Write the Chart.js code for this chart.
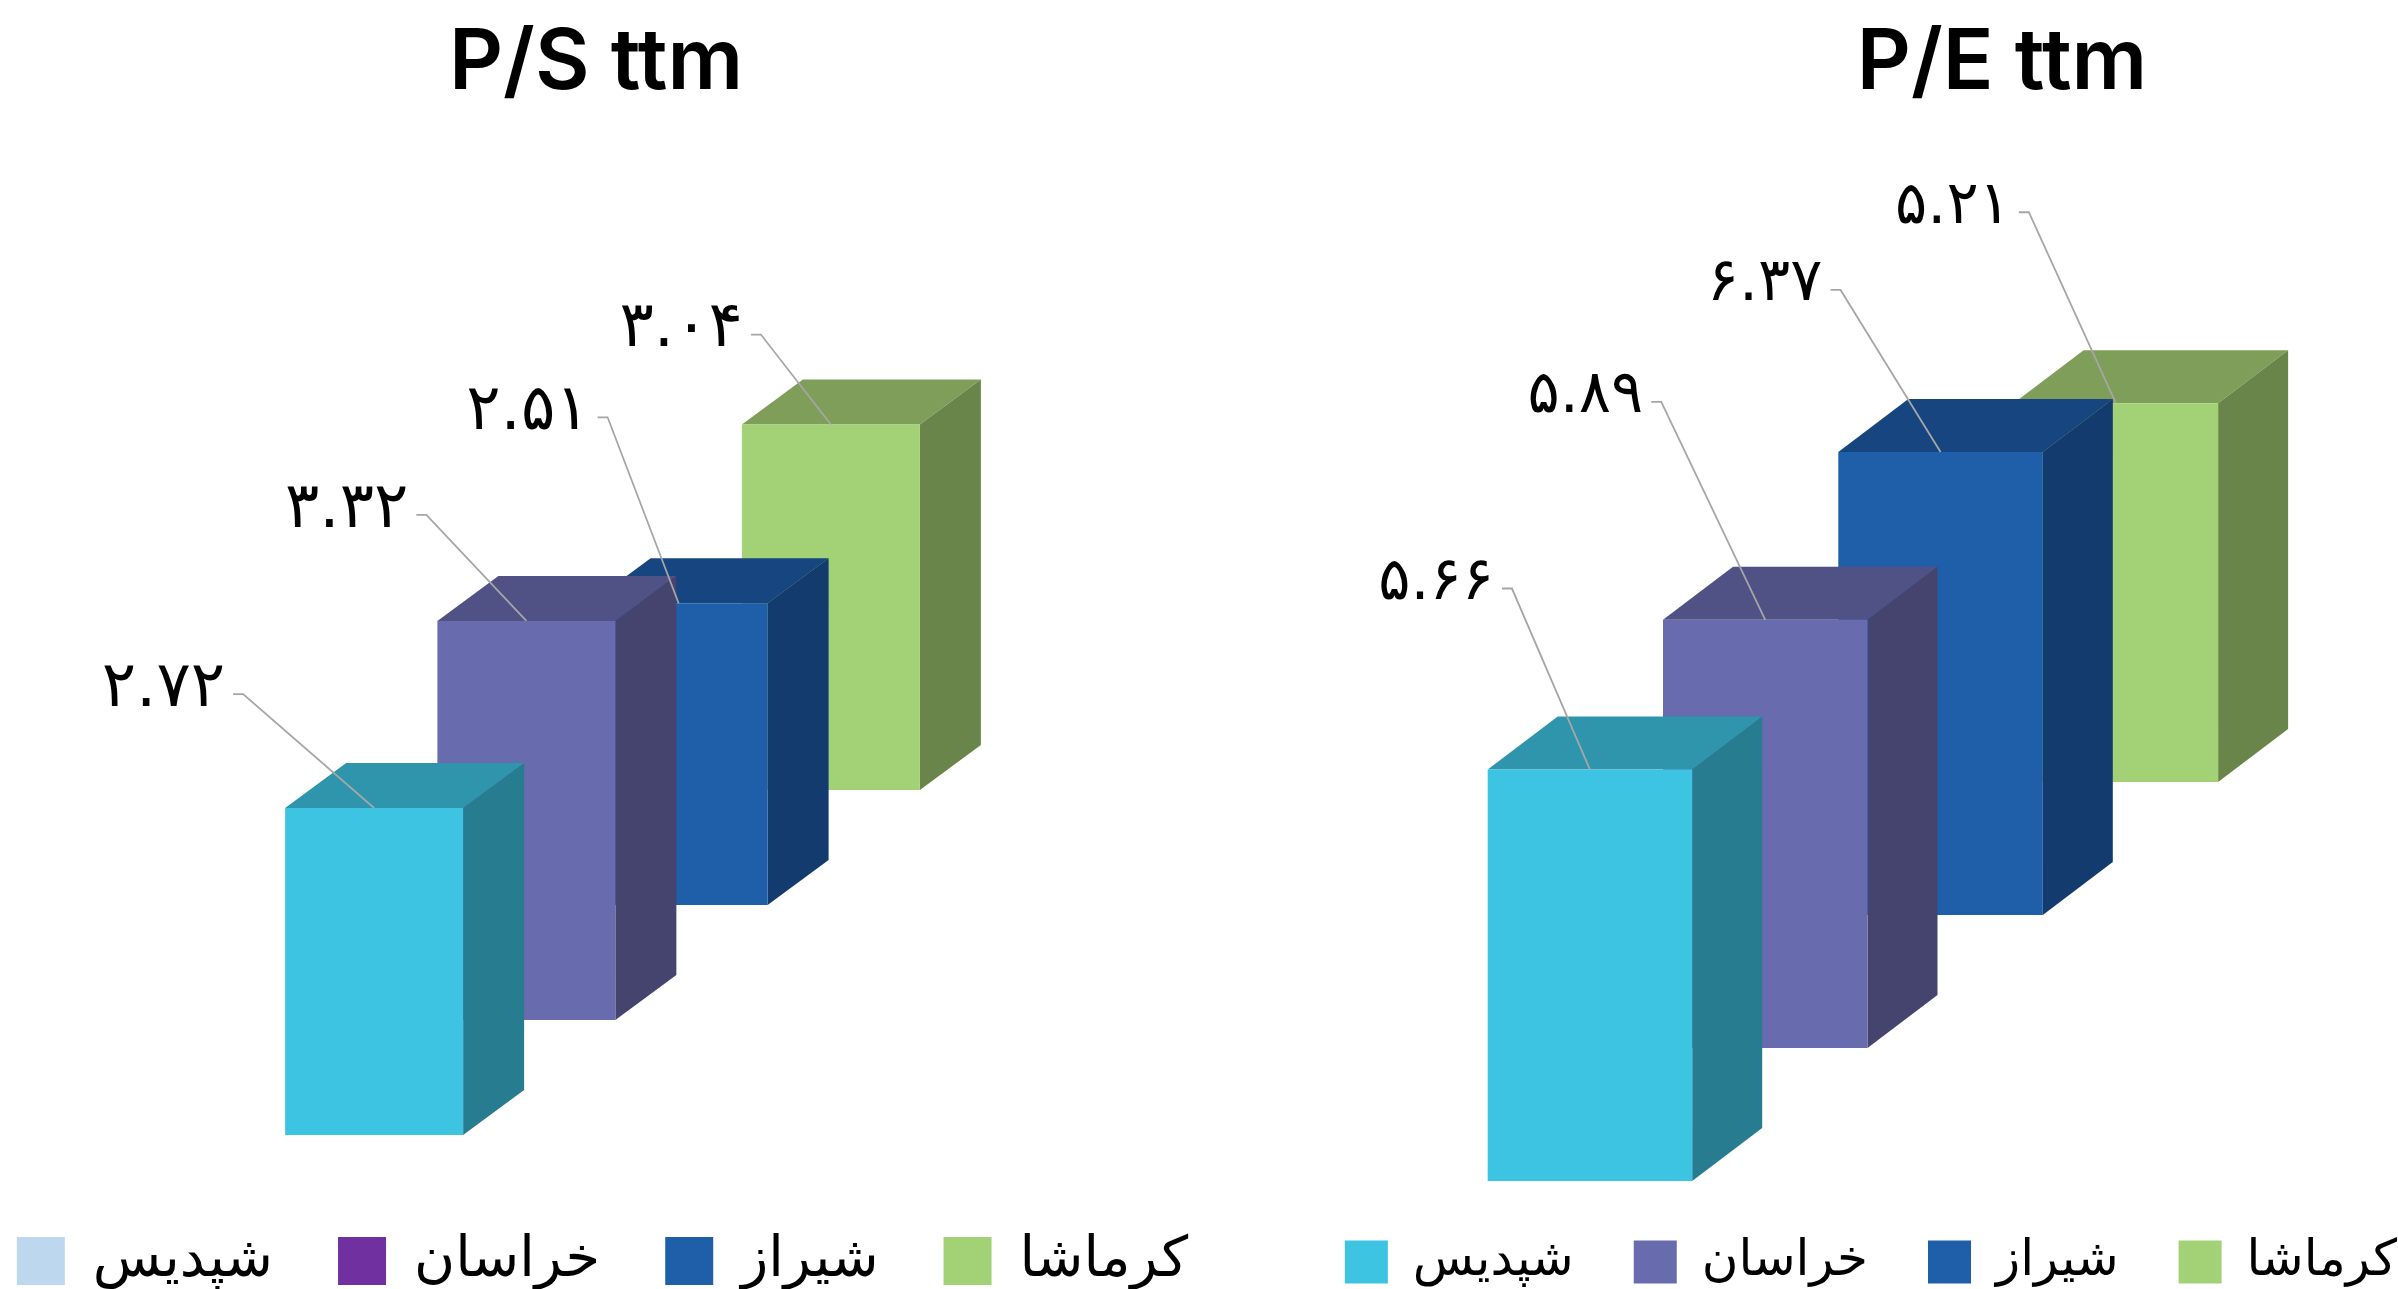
<!DOCTYPE html>
<html lang="fa">
<head>
  <meta charset="UTF-8" />
  <title>P/S ttm - P/E ttm</title>
  <script src="https://cdn.jsdelivr.net/npm/chart.js"></script>
  <style>
    html, body { margin: 0; padding: 0; background: #ffffff; }
    body { position: relative; width: 2398px; height: 1289px; overflow: hidden; }
    canvas { position: absolute; top: 0; }
    /* بوم‌ها پهن‌ترند تا راهنما در یک ردیف بماند */
    #psChart { left: -58px; }
    #peChart { left: 1271px; }
    .chart-title {
      position: absolute;
      top: 13px;
      font-family: Inter, sans-serif;
      font-weight: 600;
      font-size: 84px;
      line-height: 92px;
      color: #000;
      text-align: center;
      white-space: nowrap;
      transform: translateX(-50%);
    }
  </style>
</head>
<body>
  <canvas id="psChart" width="1321" height="1289"></canvas>
  <canvas id="peChart" width="1200" height="1289"></canvas>
  <div class="chart-title" style="left:596px">P/S ttm</div>
  <div class="chart-title" style="left:2002px">P/E ttm</div>

  <script>
    const companies = ['شپدیس', 'خراسان', 'شیراز', 'کرماشا'];
    const psValues = [2.72, 3.32, 2.51, 3.04];
    const peValues = [5.66, 5.89, 6.37, 5.21];

    const frontColors = ['#3EC4E3', '#686BAE', '#1F5EA8', '#A3D276'];
    const sideColors = ['#277C8F', '#44446F', '#143B6E', '#6A8549'];
    const topColors = ['#2F95AD', '#505285', '#16457F', '#7F9E5A'];
    const psLegendColors = ['#BDD7EE', '#7030A0', '#1F5EA8', '#A3D276'];

    const fa = v => String(v).replace(/\d/g, d => '۰۱۲۳۴۵۶۷۸۹'[d]);

    // هر سری کمی بالاتر از قبلی کشیده می‌شود تا عمق نمودار سه‌بعدی درآید
    const bars3d = {
      id: 'bars3d',
      beforeDatasetDraw(chart, args, o) {
        const ctx = chart.ctx;
        const i = args.index;
        const b = args.meta.data[0];
        ctx.save();
        ctx.translate(0, o.baseShift - o.stepY * i);
        const left = b.x - b.width / 2;
        const right = b.x + b.width / 2;
        // وجه بالا
        ctx.fillStyle = topColors[i];
        ctx.beginPath();
        ctx.moveTo(left, b.y);
        ctx.lineTo(left + o.depthX, b.y - o.depthY);
        ctx.lineTo(right + o.depthX, b.y - o.depthY);
        ctx.lineTo(right, b.y);
        ctx.closePath();
        ctx.fill();
        // وجه کنار
        ctx.fillStyle = sideColors[i];
        ctx.beginPath();
        ctx.moveTo(right, b.y);
        ctx.lineTo(right + o.depthX, b.y - o.depthY);
        ctx.lineTo(right + o.depthX, b.base - o.depthY);
        ctx.lineTo(right, b.base);
        ctx.closePath();
        ctx.fill();
      },
      afterDatasetDraw(chart) {
        chart.ctx.restore();
      },
      afterDatasetsDraw(chart, args, o) {
        const ctx = chart.ctx;
        chart.data.datasets.forEach((ds, i) => {
          const b = chart.getDatasetMeta(i).data[0];
          const ax = b.x;
          const ay = b.y + o.baseShift - o.stepY * i;
          const [dx, dy] = o.labelOffsets[i];
          const ex = ax + dx;
          const ey = ay + dy;
          ctx.strokeStyle = '#A6A6A6';
          ctx.lineWidth = 1.8;
          ctx.beginPath();
          ctx.moveTo(ex - 10, ey);
          ctx.lineTo(ex, ey);
          ctx.lineTo(ax, ay);
          ctx.stroke();
          ctx.fillStyle = '#000';
          ctx.font = o.labelFont;
          ctx.textAlign = 'right';
          ctx.textBaseline = 'middle';
          ctx.fillText(fa(ds.data[0]), ex - 18, ey - 5);
        });
      }
    };

    function drawChart(id, title, values, legendColors, o) {
      new Chart(document.getElementById(id), {
        type: 'bar',
        data: {
          labels: [title],
          datasets: companies.map((name, i) => ({
            label: name,
            data: [values[i]],
            backgroundColor: frontColors[i],
            borderWidth: 0,
            clip: false
          }))
        },
        options: {
          responsive: false,
          animation: false,
          categoryPercentage: o.categoryPercentage,
          barPercentage: o.barPercentage,
          layout: { padding: { top: 0, bottom: o.paddingBottom } },
          scales: {
            x: { display: false },
            y: {
              position: 'right',
              min: o.yMin,
              max: o.yMax,
              grid: { display: false },
              border: { display: false },
              ticks: { display: false },
              afterFit: s => { s.width = o.axisWidth; }
            }
          },
          plugins: {
            tooltip: { enabled: false },
            legend: {
              position: 'bottom',
              labels: {
                boxWidth: o.legendBox,
                boxHeight: o.legendBox,
                padding: o.legendPadding,
                color: '#000',
                font: { family: '"DejaVu Sans"', size: o.legendFont },
                generateLabels: () => companies.map((name, i) => ({
                  text: name,
                  fillStyle: legendColors[i],
                  strokeStyle: legendColors[i],
                  lineWidth: 0,
                  datasetIndex: i
                }))
              }
            },
            bars3d: {
              stepY: o.stepY,
              depthX: o.depthX,
              depthY: o.depthY,
              baseShift: o.baseShift,
              labelFont: o.labelFont,
              labelOffsets: o.labelOffsets
            }
          }
        },
        plugins: [bars3d]
      });
    }

    drawChart('psChart', 'P/S ttm', psValues, psLegendColors, {
      categoryPercentage: 609 / 1321,
      barPercentage: 1.169,
      axisWidth: 0,
      paddingBottom: -10,
      yMin: -0.2745,
      yMax: 9.442,
      baseShift: 0,
      stepY: 115,
      depthX: 61,
      depthY: 45,
      legendBox: 48,
      legendFont: 56,
      legendPadding: 65,
      labelFont: '64px "DejaVu Sans"',
      labelOffsets: [[-131, -114], [-100, -106], [-71, -186], [-70, -90]]
    });

    drawChart('peChart', 'P/E ttm', peValues, frontColors, {
      categoryPercentage: 701.2 / 1163.8,
      barPercentage: 1.1666,
      axisWidth: 36.2,
      paddingBottom: -8,
      yMin: 0,
      yMax: 16.19,
      baseShift: 4,
      stepY: 133,
      depthX: 70,
      depthY: 53,
      legendBox: 43,
      legendFont: 50,
      legendPadding: 60,
      labelFont: '60px "DejaVu Sans"',
      labelOffsets: [[-78, -181], [-104, -218], [-100, -162], [-87, -191]]
    });
  </script>
</body>
</html>
